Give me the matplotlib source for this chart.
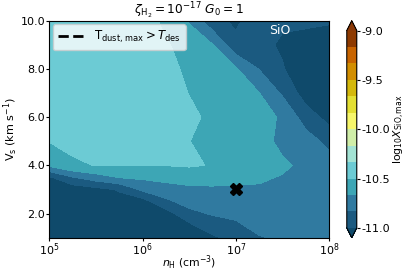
import numpy as np
import matplotlib.pyplot as plt
from matplotlib.colors import ListedColormap
from matplotlib.lines import Line2D

plt.rcParams['axes.unicode_minus'] = False
plt.rcParams['font.size'] = 8

# grid: log10 n_H (columns) and shock velocity (rows)
log_nH = [5.0, 5.25, 5.5, 5.75, 6.0, 6.25, 6.5, 6.75, 7.0, 7.25, 7.5, 7.75, 8.0]
v_s = [1.0, 2.0, 2.5, 3.0, 3.5, 4.0, 5.0, 6.0, 7.0, 8.0, 9.0, 10.0]

# log10 X(SiO) max, one list per n_H column (from low to high V_s)
xsio_cols = [
    [-11.30, -11.25, -11.20, -11.12, -11.024, -10.63, -10.495, -10.44, -10.42, -10.41, -10.41, -10.42],
    [-11.30, -11.22, -11.15, -11.10, -10.845, -10.515, -10.475, -10.43, -10.41, -10.40, -10.40, -10.41],
    [-11.28, -11.20, -11.10, -11.05, -10.741, -10.497, -10.44, -10.41, -10.39, -10.38, -10.38, -10.39],
    [-11.25, -11.15, -11.06, -10.985, -10.66, -10.497, -10.42, -10.39, -10.37, -10.37, -10.37, -10.38],
    [-11.22, -11.10, -11.07, -10.80, -10.638, -10.497, -10.41, -10.38, -10.37, -10.37, -10.38, -10.40],
    [-11.20, -11.07, -10.866, -10.734, -10.616, -10.497, -10.42, -10.40, -10.41, -10.43, -10.48, -10.55],
    [-11.20, -10.88, -10.773, -10.69, -10.62, -10.48, -10.497, -10.46, -10.505, -10.547, -10.58, -10.68],
    [-11.025, -10.817, -10.751, -10.685, -10.62, -10.51, -10.57, -10.54, -10.56, -10.60, -10.66, -10.95],
    [-10.947, -10.79, -10.74, -10.69, -10.63, -10.58, -10.56, -10.56, -10.58, -10.65, -10.955, -11.03],
    [-10.84, -10.77, -10.73, -10.69, -10.64, -10.60, -10.58, -10.60, -10.665, -10.84, -10.96, -10.90],
    [-10.82, -10.79, -10.77, -10.74, -10.68, -10.63, -10.725, -10.69, -10.858, -10.99, -11.02, -10.98],
    [-10.76, -10.75, -10.75, -10.74, -10.73, -10.72, -10.76, -10.913, -11.08, -11.10, -11.08, -10.96],
    [-10.72, -10.72, -10.73, -10.74, -10.75, -10.76, -10.88, -11.06, -11.15, -11.20, -11.15, -10.97],
]
xsio = np.array(xsio_cols).T

# chosen model marked with a cross
mark_nH = 7.0
mark_vs = 3.0

band_colors = ['#1b5a80', '#307aa0', '#3da6b5', '#6ccbd4', '#a3e3d4', '#d0eea8',
               '#f6f66a', '#e3df33', '#d4b80c', '#d28e00', '#c86400', '#8e3a00']
cmap = ListedColormap(band_colors)
cmap.set_under('#0f4a6b')
cmap.set_over('#8a3805')
levels = np.linspace(-11, -9, 13)

fig = plt.figure(figsize=(4.07, 2.72), dpi=100)
ax = fig.add_axes([0.121, 0.126, 0.688, 0.798])
cax = fig.add_axes([0.852, 0.126, 0.0246, 0.798])

cf = ax.contourf(log_nH, v_s, xsio, levels=levels, cmap=cmap, extend='both')
ax.plot(mark_nH, mark_vs, 'X', color='k', ms=9)

ax.set_xlim(5, 8)
ax.set_ylim(1, 10)
ax.set_xticks([5, 6, 7, 8])
ax.set_xticklabels([r'$10^{5}$', r'$10^{6}$', r'$10^{7}$', r'$10^{8}$'])
ax.set_yticks([2, 4, 6, 8, 10])
ax.set_yticklabels(['2.0', '4.0', '6.0', '8.0', '10.0'])
ax.tick_params(length=2, pad=1)
ax.set_xlabel(r'$n_{\rm H}$ (cm$^{-3}$)', labelpad=-3.5, fontsize=7.8)
ax.set_ylabel(r'V$_{\rm s}$ (km s$^{-1}$)', labelpad=0.5)
ax.set_title(r'$\zeta_{\rm H_2}=10^{-17}$ $G_0=1$', pad=2.5, fontsize=8.8)

ax.text(0.824, 0.957, 'SiO', transform=ax.transAxes, color='white',
        ha='center', va='center', fontsize=9)

h = Line2D([], [], color='k', ls='--', lw=2,
           label=r'$\mathrm{T_{dust,\,max}} > T_{\rm des}$')
ax.legend(handles=[h], loc='upper left', framealpha=0.8, handlelength=2.3,
          borderaxespad=0.3, fontsize=8.5)

cb = fig.colorbar(cf, cax=cax, ticks=[-11, -10.5, -10, -9.5, -9])
cb.ax.set_yticklabels(['-11.0', '-10.5', '-10.0', '-9.5', '-9.0'])
cb.ax.tick_params(length=2, pad=1.5)
cb.set_label(r'log$_{10}X_{\rm SiO, max}$', labelpad=1, fontsize=7.8)

fig.savefig('out.png', dpi=100)
